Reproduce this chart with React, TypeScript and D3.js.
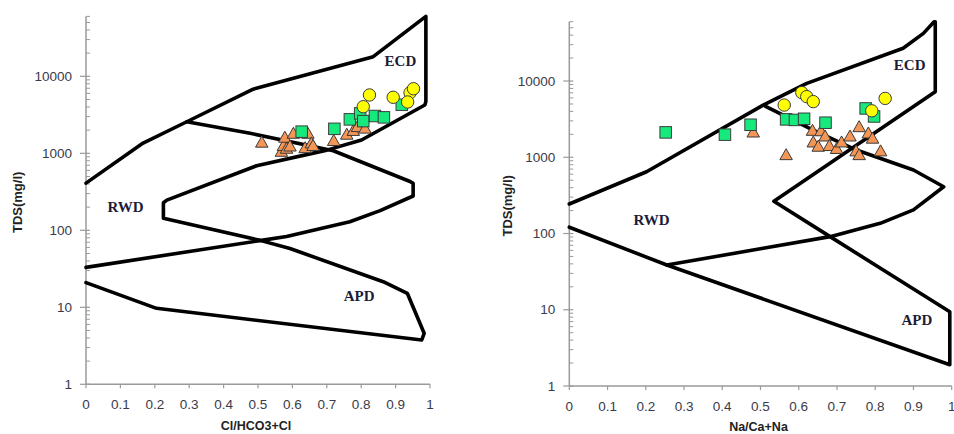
import React from "react";
import * as d3 from "d3";

type P = [number, number];

// ---- Left panel: Cl/(HCO3+Cl) vs TDS ----
const leftBoundaryA: P[] = [
  [0, 410], [0.166, 1360], [0.293, 2570], [0.486, 6800], [0.835, 18000], [0.988, 60000],
  [0.988, 4700], [0.985, 4240], [0.801, 1490], [0.7, 1100], [0.496, 690], [0.235, 247],
  [0.225, 228], [0.225, 143], [0.506, 74], [0.593, 58], [0.864, 21.5], [0.934, 15.2],
  [0.983, 4.6], [0.976, 3.76], [0.205, 9.7], [0, 20.9],
];
const leftBoundaryB: P[] = [
  [0.293, 2570], [0.477, 1820], [0.719, 1080], [0.942, 430], [0.951, 407], [0.951, 279],
  [0.855, 180], [0.767, 129], [0.583, 83], [0.51, 74], [0, 33],
];
const leftTriangles: P[] = [
  [0.511, 1380], [0.568, 1050], [0.574, 1250], [0.578, 1600], [0.583, 1150], [0.593, 1230],
  [0.603, 1800], [0.637, 1170], [0.645, 1800], [0.655, 1350], [0.66, 1250], [0.72, 1450],
  [0.758, 1750], [0.777, 1960], [0.789, 2200], [0.811, 2100],
];
const leftSquares: P[] = [
  [0.627, 1910], [0.722, 2080], [0.767, 2760], [0.797, 3300], [0.806, 2620], [0.84, 3050],
  [0.866, 2930], [0.918, 4280],
];
const leftCircles: P[] = [
  [0.824, 5720], [0.806, 4030], [0.893, 5340], [0.942, 6120], [0.952, 6900], [0.935, 4640],
];
const leftRegionLabels: { text: string; x: number; y: number }[] = [
  { text: "ECD", x: 0.914, y: 16000 },
  { text: "RWD", x: 0.115, y: 205 },
  { text: "APD", x: 0.794, y: 14 },
];

// ---- Right panel: Na/(Ca+Na) vs TDS ----
const rightBoundaryA: P[] = [
  [0, 244], [0.202, 646], [0.507, 4840], [0.621, 9330], [0.873, 26900], [0.926, 42200],
  [0.954, 60000], [0.957, 60000], [0.957, 7250], [0.535, 265], [0.682, 91], [0.995, 9.4],
  [0.995, 1.9], [0.255, 38.6], [0, 121],
];
const rightBoundaryB: P[] = [
  [0.255, 38.6], [0.507, 64], [0.682, 91], [0.813, 136], [0.9, 204], [0.979, 410],
  [0.9, 680], [0.751, 1245], [0.638, 2275], [0.512, 4700],
];
const rightTriangles: P[] = [
  [0.481, 2120], [0.567, 1070], [0.636, 2230], [0.658, 2200], [0.638, 1570], [0.651, 1380],
  [0.669, 1880], [0.68, 1410], [0.699, 1290], [0.712, 1570], [0.734, 1880], [0.75, 1200],
  [0.758, 2490], [0.758, 1070], [0.782, 2060], [0.793, 1760], [0.814, 1200],
];
const rightSquares: P[] = [
  [0.252, 2120], [0.407, 1980], [0.474, 2670], [0.567, 3140], [0.59, 3090], [0.614, 3200],
  [0.67, 2840], [0.775, 4370], [0.797, 3430],
];
const rightCircles: P[] = [
  [0.562, 4840], [0.608, 7050], [0.621, 6240], [0.638, 5370], [0.791, 4070], [0.826, 5920],
];
const rightRegionLabels: { text: string; x: number; y: number }[] = [
  { text: "ECD", x: 0.89, y: 16500 },
  { text: "RWD", x: 0.215, y: 150 },
  { text: "APD", x: 0.909, y: 7.5 },
];

const xTicks = [0, 0.1, 0.2, 0.3, 0.4, 0.5, 0.6, 0.7, 0.8, 0.9, 1];
const xTickLabels = ["0", "0.1", "0.2", "0.3", "0.4", "0.5", "0.6", "0.7", "0.8", "0.9", "1"];
const yTicks = [1, 10, 100, 1000, 10000];
const yTickLabels = ["1", "10", "100", "1000", "10000"];
const yDomain: P = [1, 60000];

const GREEN = "#17ea7c";
const ORANGE = "#f39656";
const YELLOW = "#ffff00";
const MSTROKE = "#3b3b3b";

type PanelProps = {
  x0: number; x1: number; yBottom: number; yTop: number;
  xLabel: string; yLabelOffset: number;
  boundaries: P[][];
  triangles: P[]; squares: P[]; circles: P[];
  regions: { text: string; x: number; y: number }[];
};

function Panel(p: PanelProps) {
  const x = d3.scaleLinear().domain([0, 1]).range([p.x0, p.x1]);
  const y = d3.scaleLog().domain(yDomain).range([p.yBottom, p.yTop]);
  const line = d3.line<P>().x((d) => x(d[0])).y((d) => y(d[1]));
  const minor: number[] = [];
  for (let e = 0; e <= 4; e++) {
    for (let m = 2; m <= 9; m++) {
      const v = m * Math.pow(10, e);
      if (v <= yDomain[1]) minor.push(v);
    }
  }
  const tri = (cx: number, cy: number) => {
    const w = 12.5, h = 11;
    return `M${cx},${cy - h * 0.58}L${cx + w / 2},${cy + h * 0.42}L${cx - w / 2},${cy + h * 0.42}Z`;
  };
  const axisColor = "#9a9a9a";
  const tickFont = "'Liberation Sans', Arial, sans-serif";
  return (
    <g>
      <line x1={p.x0} x2={p.x0} y1={y(yDomain[0])} y2={y(yDomain[1])} stroke={axisColor} strokeWidth={1.5} />
      <line x1={p.x0} x2={p.x1} y1={y(1)} y2={y(1)} stroke={axisColor} strokeWidth={1.5} />
      {minor.map((v) => (
        <line key={"mn" + v} x1={p.x0} x2={p.x0 + 4} y1={y(v)} y2={y(v)} stroke={axisColor} strokeWidth={1} />
      ))}
      {yTicks.map((v, i) => (
        <g key={"yt" + v}>
          <line x1={p.x0 - 6} x2={p.x0 + 4} y1={y(v)} y2={y(v)} stroke={axisColor} strokeWidth={1.2} />
          <text x={p.x0 - 14} y={y(v)} dy="0.35em" textAnchor="end" fontFamily={tickFont} fontSize={13.5} fill="#3a3a4a">
            {yTickLabels[i]}
          </text>
        </g>
      ))}
      {xTicks.map((v, i) => (
        <g key={"xt" + v}>
          <line x1={x(v)} x2={x(v)} y1={y(1)} y2={y(1) + 4} stroke={axisColor} strokeWidth={1.2} />
          <text x={x(v)} y={y(1) + 20} dy="0.35em" textAnchor="middle" fontFamily={tickFont} fontSize={13.5} fill="#3a3a4a">
            {xTickLabels[i]}
          </text>
        </g>
      ))}
      <text x={(p.x0 + p.x1) / 2 - 2} y={y(1) + 41} dy="0.35em" textAnchor="middle" fontFamily={tickFont} fontWeight="bold" fontSize={12.5} fill="#222">
        {p.xLabel}
      </text>
      <text
        transform={`translate(${p.x0 - p.yLabelOffset},${(y(yDomain[0]) + y(yDomain[1])) / 2 + 2}) rotate(-90)`}
        dy="0.35em" textAnchor="middle" fontFamily={tickFont} fontWeight="bold" fontSize={13} fill="#222">
        TDS(mg/l)
      </text>
      {p.boundaries.map((b, i) => (
        <path key={"b" + i} d={line(b) || ""} fill="none" stroke="#000" strokeWidth={3.6} strokeLinejoin="round" strokeLinecap="round" />
      ))}
      {p.regions.map((r) => (
        <text key={r.text} x={x(r.x)} y={y(r.y)} dy="0.35em" textAnchor="middle"
          fontFamily="'Liberation Serif', 'Times New Roman', serif" fontWeight="bold" fontSize={15} fill="#1c1c38">
          {r.text}
        </text>
      ))}
      {p.triangles.map((d, i) => (
        <path key={"t" + i} d={tri(x(d[0]), y(d[1]))} fill={ORANGE} stroke={MSTROKE} strokeWidth={1} />
      ))}
      {p.squares.map((d, i) => (
        <rect key={"s" + i} x={x(d[0]) - 5.75} y={y(d[1]) - 5.75} width={11.5} height={11.5} fill={GREEN} stroke={MSTROKE} strokeWidth={1} />
      ))}
      {p.circles.map((d, i) => (
        <circle key={"c" + i} cx={x(d[0])} cy={y(d[1])} r={6.2} fill={YELLOW} stroke={MSTROKE} strokeWidth={1} />
      ))}
    </g>
  );
}

export default function App() {
  return (
    <svg width={954} height={434} style={{ position: "absolute", left: 0, top: 0, background: "#fff" }}>
      <rect width={954} height={434} fill="#fff" />
      <Panel
        x0={86} x1={430} yBottom={384.3} yTop={16.4}
        xLabel="Cl/HCO3+Cl" yLabelOffset={69}
        boundaries={[leftBoundaryA, leftBoundaryB]}
        triangles={leftTriangles} squares={leftSquares} circles={leftCircles}
        regions={leftRegionLabels}
      />
      <Panel
        x0={569.3} x1={951.7} yBottom={386} yTop={21.7}
        xLabel="Na/Ca+Na" yLabelOffset={62}
        boundaries={[rightBoundaryA, rightBoundaryB]}
        triangles={rightTriangles} squares={rightSquares} circles={rightCircles}
        regions={rightRegionLabels}
      />
    </svg>
  );
}
